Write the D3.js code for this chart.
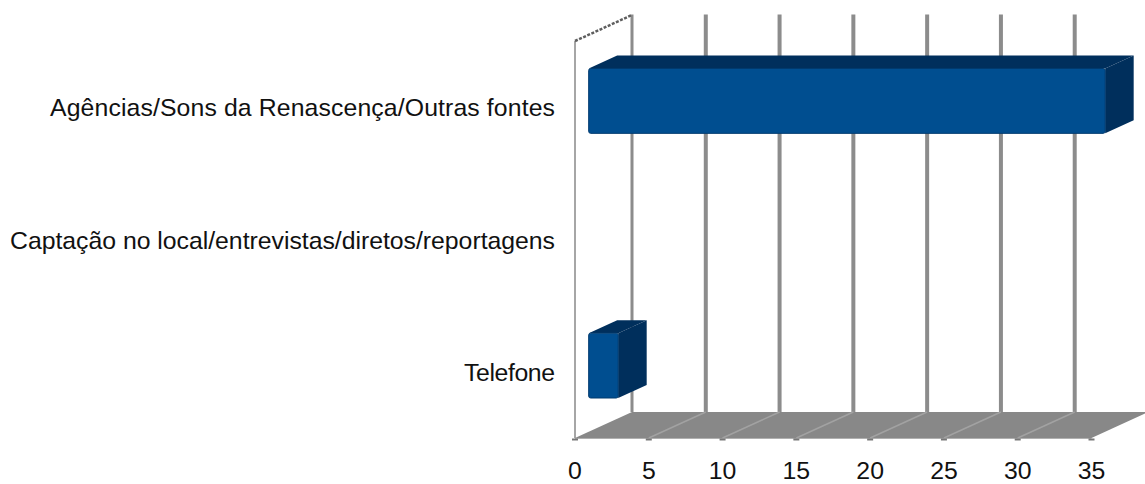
<!DOCTYPE html>
<html><head><meta charset="utf-8">
<script src="https://cdnjs.cloudflare.com/ajax/libs/d3/7.8.5/d3.min.js"></script>
<style>html,body{margin:0;background:#fff}svg{display:block}text{font-family:"Liberation Sans",Arial,sans-serif;font-size:24.8px;fill:#111}</style>
</head><body><svg id="c" width="1145" height="484"></svg>
<script>
(function(){
const categories = ["Agências/Sons da Renascença/Outras fontes","Captação no local/entrevistas/diretos/reportagens","Telefone"];
const values = [35, 0, 2];
const xTicks = [0,5,10,15,20,25,30,35];

const svg = d3.select("#c");
const x = d3.scaleLinear().domain([0,35]).range([575,1091.5]);
const y = d3.scaleBand().domain(categories).range([41,438]).paddingInner(0.51).paddingOuter(0.255);
const floorY = 438, wallTop = 41;
const depth = {x:57, y:-26};          // full depth of the 3D box
const barNear = 0.24, barFar = 0.74;  // bar position inside the depth
const labelLengths = [505, 545, 91];  // rendered label widths
const P = (px,py,z)=>[px+depth.x*z, py+depth.y*z];
const line = d3.line();

// wall gridlines
const g = svg.append("g");
g.selectAll("line.grid").data(xTicks.slice(1)).join("line").attr("class","grid")
 .attr("x1",d=>x(d)+depth.x).attr("x2",d=>x(d)+depth.x)
 .attr("y1",wallTop+depth.y-0.5).attr("y2",floorY+depth.y)
 .attr("stroke","#8c8c8c").attr("stroke-width",4);
g.append("line").attr("x1",x(0)+depth.x).attr("x2",x(0)+depth.x).attr("y1",wallTop+depth.y-0.5).attr("y2",floorY+depth.y)
 .attr("stroke","#8c8c8c").attr("stroke-width",3);
// side wall
g.append("line").attr("x1",x(0)).attr("x2",x(0)).attr("y1",wallTop).attr("y2",floorY).attr("stroke","#a6a6a6").attr("stroke-width",2);
g.append("path").attr("d",line([P(x(0),wallTop,0),P(x(0),wallTop,1)])).attr("stroke","#5e5e5e").attr("stroke-width",2.5).attr("stroke-dasharray","3 1.5").attr("fill","none");

// floor
g.append("path").attr("d",line([P(x(0),floorY,0),P(x(0),floorY,1),P(x(35),floorY,1),P(x(35),floorY,0)])+"Z").attr("fill","#888888");
g.selectAll("line.fl").data(xTicks.slice(1,-1)).join("line").attr("class","fl")
 .attr("x1",d=>x(d)).attr("y1",floorY).attr("x2",d=>x(d)+depth.x).attr("y2",floorY+depth.y)
 .attr("stroke","#a2a2a2").attr("stroke-width",1.5);
g.append("line").attr("x1",x(0)).attr("x2",x(35)).attr("y1",floorY+0.5).attr("y2",floorY+0.5).attr("stroke","#b0b0b0").attr("stroke-width",1);
g.selectAll("line.tk").data(xTicks).join("line").attr("class","tk")
 .attr("x1",d=>x(d)-3).attr("x2",d=>x(d)+3).attr("y1",floorY+1.5).attr("y2",floorY+1.5).attr("stroke","#777").attr("stroke-width",2);

// bars
const bars = svg.append("g").selectAll("g").data(categories.map((c,i)=>({c,v:values[i]})).filter(d=>d.v>0)).join("g");
const poly = (pts)=>line(pts)+"Z";
bars.each(function(d){
  const s = d3.select(this);
  const x0=x(0), x1=x(d.v), yt=y(d.c), yb=yt+y.bandwidth();
  const a=P(x0,yt,barNear), b=P(x1,yt,barNear), c=P(x1,yb,barNear);
  const a2=P(x0,yt,barFar), b2=P(x1,yt,barFar), c2=P(x1,yb,barFar);
  s.append("path").attr("d",poly([a,a2,b2,b])).attr("fill","#002f5c");
  s.append("path").attr("d",poly([b,b2,c2,c])).attr("fill","#002f5c");
  s.append("rect").attr("x",a[0]).attr("y",a[1]).attr("width",b[0]-a[0]).attr("height",c[1]-a[1]).attr("rx",2)
   .attr("fill","#004e90").attr("stroke","#003a6e").attr("stroke-width",1);
});

// labels
svg.append("g").selectAll("text").data(categories).join("text")
 .attr("x",555).attr("y",d=>y(d)+y.bandwidth()/2+9).attr("text-anchor","end")
 .attr("textLength",(d,i)=>labelLengths[i]).attr("lengthAdjust","spacing").text(d=>d);
svg.append("g").selectAll("text").data(xTicks).join("text")
 .attr("x",d=>x(d)).attr("y",478.5).attr("text-anchor","middle").text(d=>d);
})();
</script></body></html>
